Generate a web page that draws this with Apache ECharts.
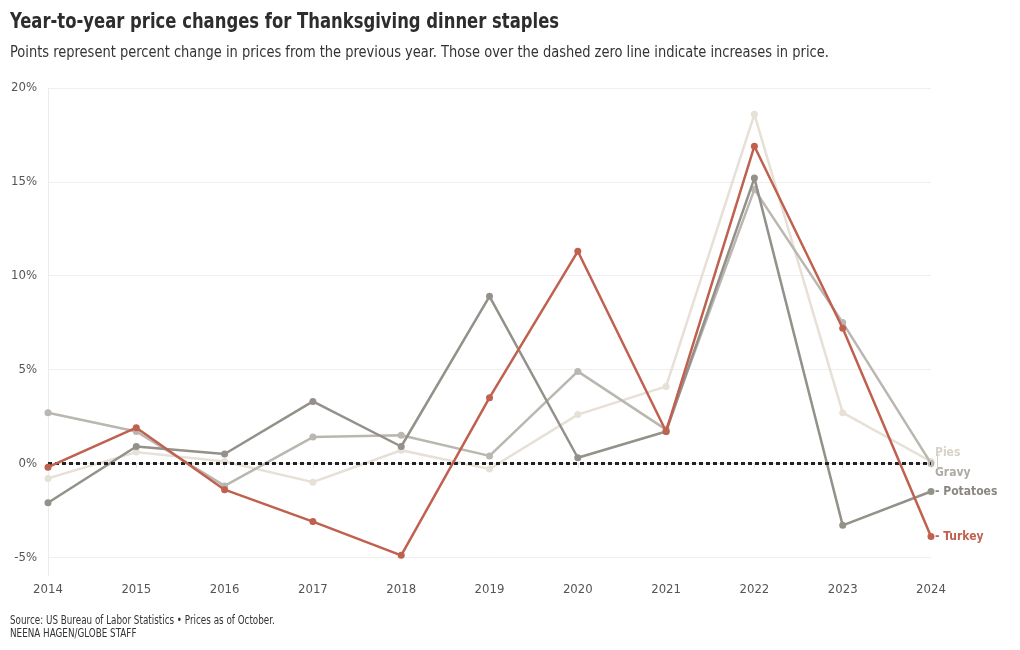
<!DOCTYPE html>
<html>
<head>
<meta charset="utf-8">
<script src="https://cdn.jsdelivr.net/npm/echarts@6/dist/echarts.min.js"></script>
<style>
html,body{margin:0;padding:0;background:#fff;}
#chart{width:1020px;height:650px;}
</style>
</head>
<body>
<div id="chart"></div>
<script>
const years = ['2014','2015','2016','2017','2018','2019','2020','2021','2022','2023','2024'];
const pies     = [-0.8, 0.6, 0.1, -1.0, 0.7, -0.3, 2.6, 4.1, 18.6, 2.7, 0.1];
const gravy    = [2.7, 1.7, -1.2, 1.4, 1.5, 0.4, 4.9, 1.8, 14.6, 7.5, 0.0];
const potatoes = [-2.1, 0.9, 0.5, 3.3, 0.9, 8.9, 0.3, 1.7, 15.2, -3.3, -1.5];
const turkey   = [-0.2, 1.9, -1.4, -3.1, -4.9, 3.5, 11.3, 1.7, 16.9, 7.2, -3.9];
const yTicks = [-5, 0, 5, 10, 15, 20];

const titleText = 'Year-to-year price changes for Thanksgiving dinner staples';
const subtitleText = 'Points represent percent change in prices from the previous year. Those over the dashed zero line indicate increases in price.';
const sourceText = 'Source: US Bureau of Labor Statistics \u2022 Prices as of October.';
const creditText = 'NEENA HAGEN/GLOBE STAFF';

const FONT = '"DejaVu Sans Condensed","DejaVu Sans",sans-serif';

function lineSeries(name, data, color, labelColor, z, labelOffset, prefix) {
  return {
    name: name, type: 'line', data: data, z: z,
    symbol: 'circle', symbolSize: 7,
    lineStyle: {color: color, width: 2.5},
    itemStyle: {color: color},
    emphasis: {disabled: true},
    endLabel: {
      show: true, distance: 4, offset: labelOffset,
      formatter: prefix + name,
      color: labelColor, fontFamily: FONT, fontWeight: 'bold', fontSize: 12
    }
  };
}

function txt(text, x, y, size, weight, color, sx) {
  return {type: 'text', x: x, y: y, scaleX: sx, silent: true,
    style: {text: text, fill: color, font: weight + ' ' + size + 'px ' + FONT, verticalAlign: 'top', align: 'left'}};
}

const chart = echarts.init(document.getElementById('chart'), null, {renderer: 'canvas'});
chart.setOption({
  animation: false,
  backgroundColor: '#fff',
  grid: {left: 48, right: 89, top: 88, bottom: 74, containLabel: false},
  xAxis: {
    type: 'category', data: years, boundaryGap: false,
    axisLine: {show: true, lineStyle: {color: '#e6e6e6', width: 1}},
    axisTick: {show: true, length: 5, alignWithLabel: true, lineStyle: {color: '#e6e6e6'}},
    axisLabel: {color: '#555', fontFamily: FONT, fontSize: 13, margin: 7},
    splitLine: {show: false}
  },
  yAxis: {
    type: 'value', min: -6, max: 20,
    axisLine: {show: true, lineStyle: {color: '#ececec', width: 1}},
    axisTick: {show: false, customValues: yTicks},
    axisLabel: {customValues: yTicks, color: '#555', fontFamily: FONT, fontSize: 13, margin: 11,
      formatter: v => v + '%'},
    splitLine: {show: true, lineStyle: {color: '#efefef', width: 1}}
  },
  series: [
    lineSeries('Pies', pies, '#e6e0d6', '#d8d2c8', 2, [0, -9], ''),
    lineSeries('Gravy', gravy, '#bab6b0', '#aeaaa4', 3, [0, 9], ''),
    lineSeries('Potatoes', potatoes, '#94908a', '#8b8781', 4, [0, 0], '- '),
    {
      name: 'zero', type: 'line', data: [], z: 5,
      markLine: {
        silent: true, symbol: ['none', 'none'], label: {show: false},
        lineStyle: {color: '#222', width: 3, type: [4, 3]},
        data: [{yAxis: 0}]
      }
    },
    lineSeries('Turkey', turkey, '#c0614f', '#c0614f', 6, [0, 0], '- ')
  ],
  graphic: [
    txt(titleText, 10, 11, 22, 'bold', '#2d2d2d', 0.83),
    txt(subtitleText, 10, 45, 16, 'normal', '#333', 0.905),
    txt(sourceText, 10, 615, 11.5, 'normal', '#333', 0.85),
    txt(creditText, 10, 628, 11.5, 'normal', '#333', 0.85),
    {type: 'polyline', silent: true, z: 10,
     shape: {points: [[940, 455], [937.5, 455], [937.5, 469], [940, 469]]},
     style: {stroke: '#cfcbc5', lineWidth: 1, fill: null}}
  ]
});
</script>
</body>
</html>
